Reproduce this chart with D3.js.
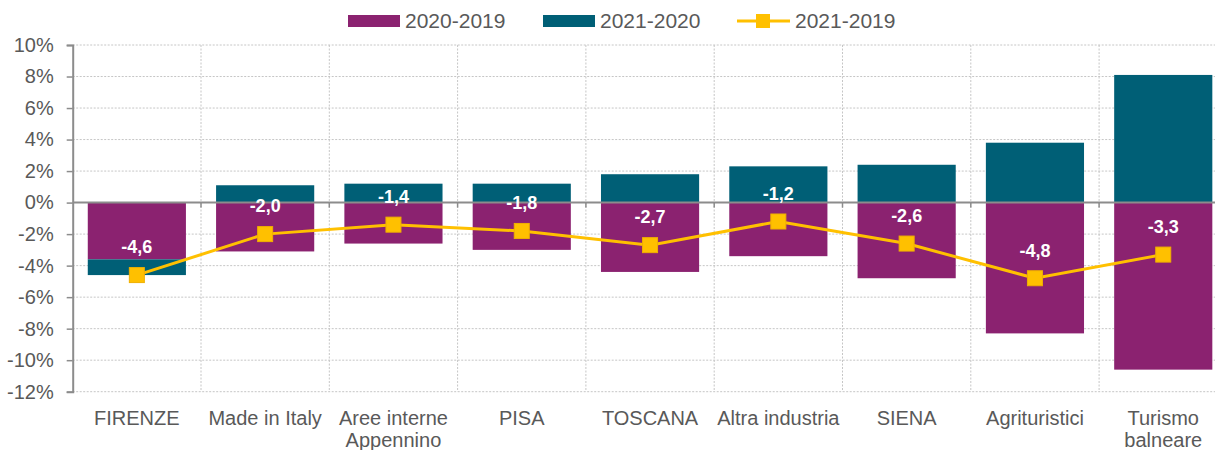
<!DOCTYPE html>
<html>
<head>
<meta charset="utf-8">
<script src="https://cdn.jsdelivr.net/npm/d3@7"></script>
<style>
  body { margin: 0; background: #fff; }
  svg { display: block; font-family: "Liberation Sans", Arial, sans-serif; }
</style>
</head>
<body>
<svg id="chart" width="1215" height="450"></svg>
<script>
// categories and series
var categories = ["FIRENZE", "Made in Italy", "Aree interne\nAppennino", "PISA", "TOSCANA",
                  "Altra industria", "SIENA", "Agrituristici", "Turismo\nbalneare"];
var v2020_2019 = [-3.6, -3.1, -2.6, -3.0, -4.4, -3.4, -4.8, -8.3, -10.6];
var v2021_2020 = [-1.0, 1.1, 1.2, 1.2, 1.8, 2.3, 2.4, 3.8, 8.1];
var v2021_2019 = [-4.6, -2.0, -1.4, -1.8, -2.7, -1.2, -2.6, -4.8, -3.3];
var yTicks = [-12, -10, -8, -6, -4, -2, 0, 2, 4, 6, 8, 10];

var purple = "#8b2270", teal = "#005f76", gold = "#ffc000",
    gridCol = "#c6c6c6", axisCol = "#8c8c8c", textCol = "#595959";

var svg = d3.select("#chart");

var x = d3.scaleBand()
    .domain(categories)
    .range([72.7, 1227.4])
    .padding(0);

var barW = x.bandwidth() * 0.765;

var y = d3.scaleLinear()
    .domain([-12, 10])
    .range([391.7, 45]);

// stack with diverging offset: negatives stack downward
var rows = categories.map(function(c, i) {
  return { cat: c, a: v2020_2019[i], b: v2021_2020[i] };
});
var stack = d3.stack().keys(["a", "b"]).offset(d3.stackOffsetDiverging);
var series = stack(rows);
var colors = { a: purple, b: teal };

// gridlines
svg.append("g")
  .selectAll("line")
  .data(yTicks.filter(function(d) { return d !== 0; }))
  .enter().append("line")
    .attr("x1", 72.7).attr("x2", 1215)
    .attr("y1", function(d) { return y(d); })
    .attr("y2", function(d) { return y(d); })
    .attr("stroke", gridCol)
    .attr("stroke-dasharray", "2,1.5");

svg.append("g")
  .selectAll("line")
  .data(categories.slice(1))
  .enter().append("line")
    .attr("x1", function(d) { return x(d); })
    .attr("x2", function(d) { return x(d); })
    .attr("y1", y(10)).attr("y2", y(-12))
    .attr("stroke", gridCol)
    .attr("stroke-dasharray", "2,1.5");

// bars
svg.append("g")
  .selectAll("g")
  .data(series)
  .enter().append("g")
    .attr("fill", function(s) { return colors[s.key]; })
  .selectAll("rect")
  .data(function(s) { return s; })
  .enter().append("rect")
    .attr("x", function(d) { return x(d.data.cat) + (x.bandwidth() - barW) / 2; })
    .attr("width", barW)
    .attr("y", function(d) { return y(Math.max(d[0], d[1])); })
    .attr("height", function(d) { return Math.abs(y(d[0]) - y(d[1])); });

// zero line with small ticks at band boundaries
svg.append("line")
  .attr("x1", 72.7).attr("x2", 1215)
  .attr("y1", y(0)).attr("y2", y(0))
  .attr("stroke", axisCol).attr("stroke-width", 2);

svg.append("g")
  .selectAll("line")
  .data(categories.slice(1))
  .enter().append("line")
    .attr("x1", function(d) { return x(d); })
    .attr("x2", function(d) { return x(d); })
    .attr("y1", y(0)).attr("y2", y(0) + 5)
    .attr("stroke", axisCol).attr("stroke-width", 1.5);

// y axis
var yAxis = svg.append("g")
  .attr("transform", "translate(72.7,0)")
  .call(d3.axisLeft(y).tickValues(yTicks).tickSize(6).tickPadding(13)
        .tickFormat(function(d) { return d + "%"; }));
yAxis.select(".domain").attr("stroke", axisCol).attr("stroke-width", 2);
yAxis.selectAll(".tick line").attr("stroke", axisCol).attr("stroke-width", 1.5);
yAxis.selectAll(".tick text")
  .attr("fill", textCol)
  .style("font-size", "20px");

// category labels
svg.append("g")
  .selectAll("text")
  .data(categories)
  .enter().append("text")
    .attr("x", function(d) { return x(d) + x.bandwidth() / 2; })
    .attr("y", 425)
    .attr("text-anchor", "middle")
    .attr("fill", textCol)
    .style("font-size", "20px")
    .each(function(d) {
      var t = d3.select(this);
      d.split("\n").forEach(function(line, i) {
        t.append("tspan")
          .attr("x", x(d) + x.bandwidth() / 2)
          .attr("dy", i === 0 ? 0 : 22)
          .text(line);
      });
    });

// line 2021-2019
var line = d3.line()
  .x(function(d, i) { return x(categories[i]) + x.bandwidth() / 2; })
  .y(function(d) { return y(d); });

svg.append("path")
  .datum(v2021_2019)
  .attr("d", line)
  .attr("fill", "none")
  .attr("stroke", gold)
  .attr("stroke-width", 3);

svg.append("g")
  .selectAll("rect")
  .data(v2021_2019)
  .enter().append("rect")
    .attr("x", function(d, i) { return x(categories[i]) + x.bandwidth() / 2 - 7.5; })
    .attr("y", function(d) { return y(d) - 7.5; })
    .attr("width", 15).attr("height", 15)
    .attr("fill", gold)
    .attr("stroke", "#f0b000").attr("stroke-width", 1);

// data labels
svg.append("g")
  .selectAll("text")
  .data(v2021_2019)
  .enter().append("text")
    .attr("x", function(d, i) { return x(categories[i]) + x.bandwidth() / 2; })
    .attr("y", function(d) { return y(d) - 28; })
    .attr("dy", "0.35em")
    .attr("text-anchor", "middle")
    .attr("fill", "#fff")
    .style("font-size", "18px")
    .style("font-weight", "bold")
    .text(function(d) { return d3.format(".1f")(d).replace(".", ",").replace("−", "-"); });

// legend
var legend = svg.append("g").style("font-size", "21px").attr("fill", textCol);
legend.append("rect").attr("x", 348).attr("y", 15).attr("width", 52).attr("height", 12).attr("fill", purple);
legend.append("text").attr("x", 405).attr("y", 28).text("2020-2019");
legend.append("rect").attr("x", 543).attr("y", 15).attr("width", 52).attr("height", 12).attr("fill", teal);
legend.append("text").attr("x", 600).attr("y", 28).text("2021-2020");
legend.append("line").attr("x1", 737).attr("x2", 790).attr("y1", 21).attr("y2", 21)
  .attr("stroke", gold).attr("stroke-width", 3);
legend.append("rect").attr("x", 756).attr("y", 14).attr("width", 14).attr("height", 14).attr("fill", gold);
legend.append("text").attr("x", 795).attr("y", 28).text("2021-2019");
</script>
</body>
</html>
